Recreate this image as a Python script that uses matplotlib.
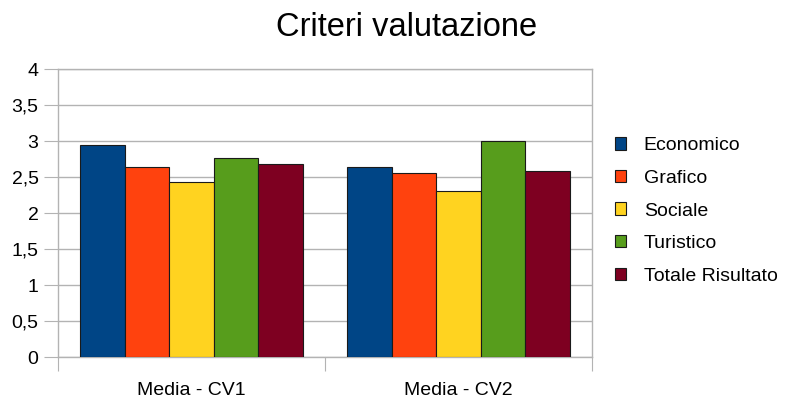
import matplotlib
matplotlib.use("Agg")
import matplotlib.pyplot as plt
import numpy as np

plt.rcParams['font.family'] = ['Liberation Sans', 'DejaVu Sans']

categories = ["Media - CV1", "Media - CV2"]
series_names = ["Economico", "Grafico", "Sociale", "Turistico", "Totale Risultato"]
economico = [2.94, 2.64]
grafico = [2.64, 2.55]
sociale = [2.43, 2.30]
turistico = [2.77, 3.00]
totale = [2.68, 2.58]
yticks = [0, 0.5, 1, 1.5, 2, 2.5, 3, 3.5, 4]
ytick_labels = ["0", "0,5", "1", "1,5", "2", "2,5", "3", "3,5", "4"]

colors = ["#004586", "#ff420e", "#ffd320", "#579d1c", "#7e0021"]
series = [economico, grafico, sociale, turistico, totale]

fig = plt.figure(figsize=(7.92, 4.0), dpi=100)
ax = fig.add_axes([58/792, 1 - 357/400, (592 - 58)/792, (357 - 69)/400])

x = np.arange(len(categories))
w = 0.8333 / len(series)
for i, (vals, c, name) in enumerate(zip(series, colors, series_names)):
    ax.bar(x + (i - 2) * w, vals, width=w, color=c, edgecolor="#1a1a1a",
           linewidth=0.8, label=name, zorder=3)

ax.set_xlim(-0.5, len(categories) - 0.5)
ax.set_ylim(0, 4)
ax.set_yticks(yticks)
ax.set_yticklabels(ytick_labels, fontsize=14)
ax.yaxis.grid(True, color="#b3b3b3", linewidth=1, zorder=0)
ax.tick_params(axis='y', length=10, color="#b3b3b3", pad=4)

# category boundaries as major ticks, labels at centers as minor
ax.set_xticks(np.arange(-0.5, len(categories), 1.0))
ax.set_xticklabels([])
ax.tick_params(axis='x', which='major', length=10, color="#b3b3b3")
ax.set_xticks(x, minor=True)
ax.set_xticklabels(categories, minor=True, fontsize=14)
ax.tick_params(axis='x', which='minor', length=0, pad=18)

for s in ax.spines.values():
    s.set_color("#b3b3b3")
    s.set_linewidth(1)

fig.text(407/792, 1 - 28/400, "Criteri valutazione", fontsize=23.5,
         ha='center', va='center')

leg = ax.legend(loc='center left', bbox_to_anchor=(601/792, 1 - 211/400),
                bbox_transform=fig.transFigure, frameon=False, fontsize=14,
                handlelength=0.6, handleheight=0.6, handletextpad=0.9,
                labelspacing=0.8, borderpad=0.2)

fig.savefig("out.png", dpi=100)
